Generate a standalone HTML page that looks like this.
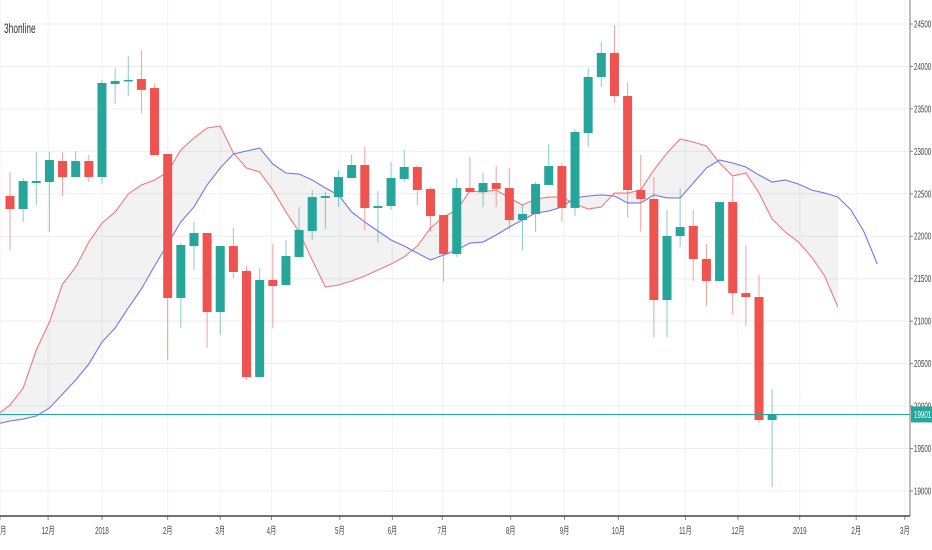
<!DOCTYPE html>
<html><head><meta charset="utf-8">
<style>
html,body{margin:0;padding:0;background:#fff;}
svg{display:block;font-family:"Liberation Sans","Noto Sans CJK SC",sans-serif;}
</style></head>
<body>
<svg id="chart" width="932" height="550" viewBox="0 0 932 550" xmlns="http://www.w3.org/2000/svg">
<rect x="0" y="0" width="932" height="550" fill="#ffffff"/>
<g id="grid"></g>
<g id="cloud"></g>
<g id="candles"></g>
<g id="axes"></g>
<text x="0" y="33" font-size="14" fill="#333" transform="translate(4,0) scale(0.6,1)">3honline</text>
</svg>
<script>
const priceTicks = [19000,19500,20000,20500,21000,21500,22000,22500,23000,23500,24000,24500];
const monthLabels = ["11月","12月","2018","2月","3月","4月","5月","6月","7月","8月","9月","10月","11月","12月","2019","2月","3月"];
const monthSlots = [-0.76,2.9,7.0,12.0,16.0,19.9,25.1,29.1,32.9,38.1,42.2,46.3,51.4,55.4,60.1,64.4,68.1];
const opens  = [22474,22321,22627,22639,22886,22698,22886,22698,23793,23829,23852,23746,22969,21273,21885,22038,21108,21885,21591,20342,21485,21426,21756,22062,22451,22462,22686,22839,22333,22356,22674,22816,22557,22250,21791,22568,22521,22627,22568,22191,22262,22604,22827,22333,23216,23876,24159,23652,22545,22439,21249,22003,22121,21732,21473,22403,21331,21284,19835];
const highs  = [22757,22686,22992,22992,22992,23004,22957,23841,23982,24123,24194,23793,22969,21921,22168,22038,21885,22097,21650,21626,21909,21956,22345,22545,22521,22780,22957,23051,22533,22875,23016,22839,22580,22250,22686,22934,22745,22827,22804,22368,22639,23087,22863,23263,23982,24288,24489,23805,22957,22698,22309,22568,22309,21909,22403,22698,21897,21544,20201];
const lows   = [21838,22168,22368,22050,22474,22698,22639,22615,23558,23652,23452,22957,20542,20919,21602,20684,20837,21508,20307,20330,20919,21426,21756,21956,22085,22345,22686,22074,21921,22309,22639,22368,22050,21461,21756,22521,22345,22345,22074,21838,22050,22604,22168,22238,23051,23758,23570,22227,22050,20801,20813,21873,21473,21178,21473,21072,20943,19800,19046];
const closes = [22321,22651,22651,22898,22698,22886,22698,23805,23829,23841,23723,22957,21273,21897,22038,21108,21885,21579,20342,21485,21414,21767,22074,22462,22474,22698,22839,22333,22356,22686,22816,22545,22238,21791,22568,22521,22627,22557,22191,22262,22615,22827,22333,23228,23876,24159,23652,22545,22439,21249,22003,22109,21732,21473,22403,21331,21284,19835,19901];
const spanA = [19894,20012,20212,20660,20990,21437,21638,21932,22156,22286,22498,22604,22663,22757,23016,23157,23275,23299,22981,22804,22757,22545,22286,22050,21720,21402,21426,21473,21532,21602,21673,21756,21885,22097,22227,22309,22533,22521,22545,22451,22368,22439,22462,22462,22380,22321,22345,22509,22509,22545,22780,22981,23146,23110,23063,22863,22710,22745,22509,22203,22050,21932,21756,21532,21167];
const spanB = [19788,19824,19847,19883,19977,20142,20307,20495,20754,20919,21155,21379,21650,21909,22168,22345,22604,22804,22969,23004,23040,22851,22745,22733,22663,22568,22486,22286,22168,22062,21956,21885,21803,21720,21779,21838,21920,21932,22015,22109,22191,22274,22297,22345,22451,22474,22486,22474,22392,22392,22486,22451,22451,22627,22804,22898,22863,22816,22721,22639,22663,22615,22545,22509,22462,22309,22050,21673];
const lastPrice = 19901;

const NS = "http://www.w3.org/2000/svg";
const PLOT_R = 910, PLOT_B = 516;
function yOf(v){ return 24 + (24500 - v) / 500 * 42.45; }
function xOf(i){ return 10 + 13.14 * i; }
function mk(tag, attrs, parent){ const e = document.createElementNS(NS, tag); for (const k in attrs) e.setAttribute(k, attrs[k]); parent.appendChild(e); return e; }

const grid = document.getElementById('grid');
const axes = document.getElementById('axes');
const cloud = document.getElementById('cloud');
const candles = document.getElementById('candles');

priceTicks.forEach(v => {
  const y = yOf(v);
  const l = mk('line', {x1:0, x2:PLOT_R, y1:y, y2:y, stroke:'#eceef1', 'stroke-width':1}, grid);
  
  
  const t = mk('line', {x1:PLOT_R, x2:PLOT_R+3, y1:y, y2:y, stroke:'#888', 'stroke-width':1}, axes);
  
  
  const tx = mk('text', {x:0, y:y+3.5, 'font-size':10, fill:'#444', transform:'translate(914,0) scale(0.62,1)'}, axes);
  tx.textContent = v;
  
  
});
monthSlots.forEach((s, k) => {
  const x = xOf(s);
  const l = mk('line', {x1:x, x2:x, y1:0, y2:PLOT_B, stroke:'#f0f2f4', 'stroke-width':1}, grid);
  
  
  const t = mk('line', {x1:x, x2:x, y1:PLOT_B, y2:PLOT_B+4, stroke:'#888', 'stroke-width':1}, axes);
  
  
  const tx = mk('text', {x:0, y:534, 'font-size':10, fill:'#444', 'text-anchor':'middle', transform:'translate('+x+',0) scale(0.62,1)'}, axes);
  tx.textContent = monthLabels[k];
  
  
});

let pts = [];
for (let k = 0; k < spanA.length; k++) pts.push(xOf(k-1)+','+yOf(spanA[k]));
for (let k = spanA.length - 1; k >= 0; k--) pts.push(xOf(k-1)+','+yOf(spanB[k]));
const fill = mk('polygon', {points: pts.join(' '), fill:'#000', 'fill-opacity':0.05}, cloud);


const la = mk('polyline', {points: spanA.map((v,k)=>xOf(k-1)+','+yOf(v)).join(' '), fill:'none', stroke:'#f07b7b', 'stroke-width':1.1}, cloud);


const lb = mk('polyline', {points: spanB.map((v,k)=>xOf(k-1)+','+yOf(v)).join(' '), fill:'none', stroke:'#7b72ee', 'stroke-width':1.1}, cloud);



opens.forEach((o, i) => {
  const c = closes[i], up = c >= o, col = up ? '#26a69a' : '#ef5350';
  const x = xOf(i);
  const w = mk('line', {x1:x, x2:x, y1:yOf(highs[i]), y2:yOf(lows[i]), stroke:col, 'stroke-width':1, 'stroke-opacity':0.55}, candles);
  
  
  const top = yOf(Math.max(o,c)), bot = yOf(Math.min(o,c));
  const b = mk('rect', {x:x-4.5, y:top, width:9, height:Math.max(1.5, bot-top), fill:col}, candles);
  
  
});

const ly = yOf(lastPrice);
const pl = mk('line', {x1:0, x2:PLOT_R, y1:ly, y2:ly, stroke:'#26a69a', 'stroke-width':1}, axes);


const ax1 = mk('line', {x1:PLOT_R, x2:PLOT_R, y1:0, y2:PLOT_B, stroke:'#777', 'stroke-width':1}, axes);


const ax2 = mk('line', {x1:0, x2:PLOT_R, y1:PLOT_B, y2:PLOT_B, stroke:'#444', 'stroke-width':1.5}, axes);


const pb = mk('rect', {x:PLOT_R+1, y:ly-8, width:22, height:16, fill:'#26a69a'}, axes);


const pt = mk('text', {x:0, y:ly+3.5, 'font-size':10, fill:'#fff', transform:'translate(914,0) scale(0.62,1)'}, axes);
pt.textContent = lastPrice;


</script>
</body></html>
